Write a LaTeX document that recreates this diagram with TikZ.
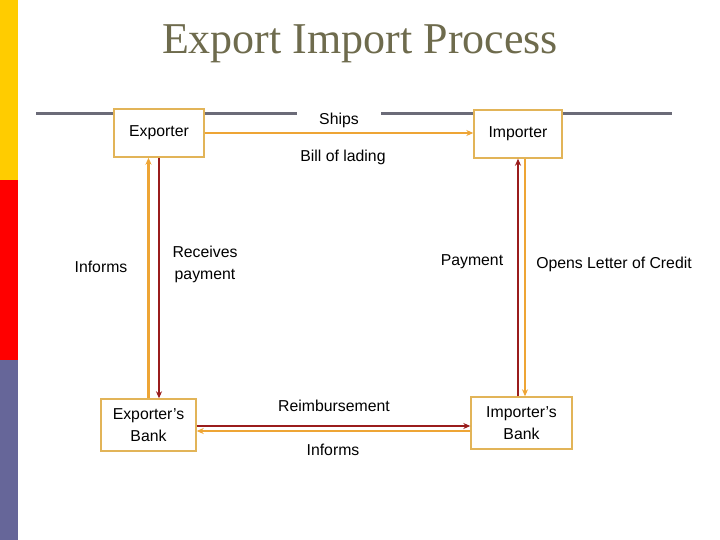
\documentclass[tikz,border=0pt]{standalone}
\usepackage{fontspec}
\setmainfont{Liberation Sans}
\newfontfamily\titlefont{Liberation Serif}
\usetikzlibrary{arrows.meta}

\definecolor{barYellow}{HTML}{FFCC00}
\definecolor{barRed}{HTML}{FF0000}
\definecolor{barSlate}{HTML}{666699}
\definecolor{titleOlive}{HTML}{6E6B4D}
\definecolor{ruleGray}{HTML}{6B6B78}
\definecolor{boxTan}{HTML}{E2B458}
\definecolor{flowOrange}{HTML}{EEA535}
\definecolor{flowRed}{HTML}{9A1C1C}

\tikzset{
  party/.style={draw=boxTan, line width=1.4pt, fill=white, align=center,
    font=\fontsize{15.8}{22}\selectfont, inner sep=0pt},
  note/.style={align=center, font=\fontsize{15.8}{22}\selectfont, inner sep=0pt},
  orangeflow/.style={draw=flowOrange, line width=2.4pt, -{Stealth[length=7pt,width=6pt]}},
  redflow/.style={draw=flowRed, line width=2.4pt, -{Stealth[length=7pt,width=6pt]}}
}

\begin{document}
\begin{tikzpicture}[x=1pt, y=-1pt]
  \useasboundingbox (0,0) rectangle (720,540);

  % Side bar
  \fill[barYellow] (0,0) rectangle (18,180);
  \fill[barRed] (0,180) rectangle (18,360);
  \fill[barSlate] (0,360) rectangle (18,540);

  % Title
  \node[text=titleOlive, font=\titlefont\fontsize{44}{50}\selectfont] (title) at (360,44) {Export Import Process};

  % Rule
  \draw[ruleGray, line width=2.6pt] (36,113.5) -- (297,113.5);
  \draw[ruleGray, line width=2.6pt] (381,113.5) -- (672,113.5);

  % Parties
  \node[party, minimum width=90pt, minimum height=48pt] (exporter) at (159,133) {Exporter};
  \node[party, minimum width=88pt, minimum height=48pt] (importer) at (518,134) {Importer};
  \node[party, minimum width=95pt, minimum height=52pt] (expbank) at (148.5,425) {Exporter’s\\Bank};
  \node[party, minimum width=101pt, minimum height=52pt] (impbank) at (521.5,423) {Importer’s\\Bank};

  % Flows
  \draw[orangeflow] (exporter.east) -- (importer.west |- exporter.east);
  \draw[orangeflow] (expbank.north) -- (expbank.north |- exporter.south);
  \draw[redflow] (exporter.south) -- (exporter.south |- expbank.north);
  \draw[redflow] (importer.south |- impbank.north) -- (importer.south);
  \draw[orangeflow] ([xshift=7pt]importer.south) -- ([xshift=7pt]importer.south |- impbank.north);
  \draw[redflow] ([yshift=-1pt]expbank.east) -- ([yshift=-1pt]expbank.east -| impbank.west);
  \draw[orangeflow] ([yshift=-6pt]expbank.east -| impbank.west) -- ([yshift=-6pt]expbank.east);

  % Labels
  \node[note] (ships) at (339,120) {Ships};
  \node[note] (lading) at (343,157) {Bill of lading};
  \node[note] (informsL) at (101,267) {Informs};
  \node[note] (receives) at (205,264) {Receives\\payment};
  \node[note] (payment) at (472,262) {Payment};
  \node[note] (credit) at (614,264) {Opens Letter of Credit};
  \node[note] (reimb) at (334,406) {Reimbursement};
  \node[note] (informsB) at (333,450) {Informs};
\end{tikzpicture}
\end{document}
